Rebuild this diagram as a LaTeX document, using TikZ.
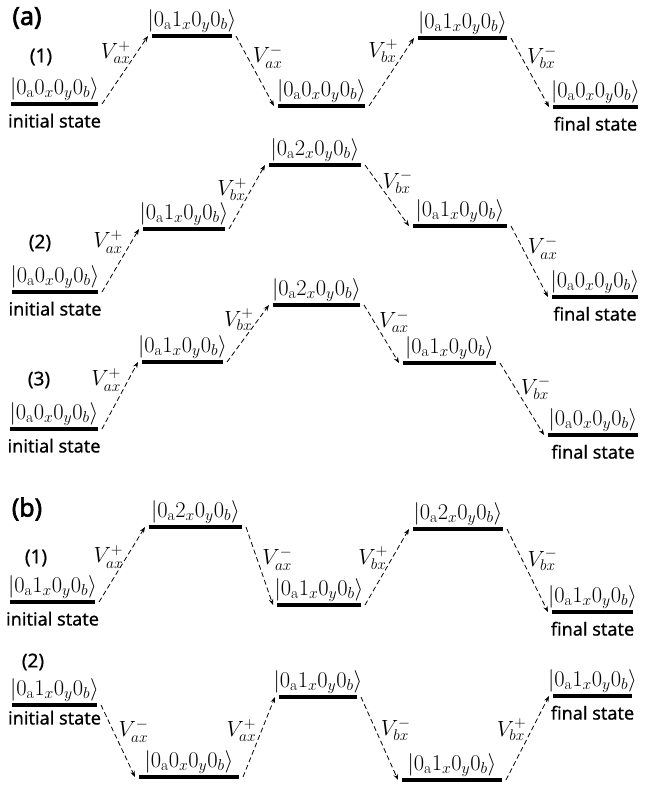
\RequirePackage{fix-cm}
\documentclass[tikz,border=0pt]{standalone}
\usepackage{fontspec}
\newfontfamily\yahei{Noto Sans}[FakeBold=0.6]
\newfontfamily\yaheibold{Noto Sans}[FakeBold=2.4]
\usetikzlibrary{arrows.meta}
\newcommand{\kx}[1]{$|0_{\mathrm{a}}#1_{x}0_{y}0_{b}\rangle$}
\newcommand{\Vp}[1]{$V_{#1x}^{+}$}
\newcommand{\Vm}[1]{$V_{#1x}^{-}$}
\begin{document}
\begin{tikzpicture}[x=1pt, y=-1pt,
	level/.style={fill=black, minimum height=4.5, inner sep=0pt, outer xsep=4pt, outer ysep=0pt},
	ket/.style={font=\fontsize{22.5}{26}\selectfont, inner sep=1pt},
	state/.style={font=\yahei\fontsize{18}{20}\selectfont, label distance=4pt},
	part/.style={font=\yaheibold\fontsize{25}{28}\selectfont},
	case/.style={font=\yahei\fontsize{19}{22}\selectfont},
	vlab/.style={font=\fontsize{22}{26}\selectfont, inner sep=1pt},
	trans/.style={draw, line width=0.8pt, dash pattern=on 5pt off 3pt, -{Stealth[length=6pt, width=4.5pt]}}]
%			\draw[help lines] (0,0) grid (648,785);
			\useasboundingbox (0,0) rectangle (648,785);
			\node[part] (tag-a) at (27,18) {(a)};
			\node[part] (tag-b) at (27,509) {(b)};
			\node[case] (case-a1) at (41,57) {(1)};
			\node[case] (case-a2) at (40,243) {(2)};
			\node[case] (case-a3) at (39,380) {(3)};
			\node[case] (case-b1) at (36,558) {(1)};
			\node[case] (case-b2) at (33,662) {(2)};
			% (a)(1)
			\node[level, minimum width=87, label={[ket]above:\kx{0}}, label={[state]below:initial state}] (a1-0) at (54.5,104) {};
			\node[level, minimum width=80, label={[ket]above:\kx{1}}] (a1-1) at (192,36) {};
			\node[level, minimum width=87, label={[ket]above:\kx{0}}] (a1-2) at (321.5,106) {};
			\node[level, minimum width=89, label={[ket]above:\kx{1}}] (a1-3) at (462.5,38) {};
			\node[level, minimum width=85, label={[ket]above:\kx{0}}, label={[state]below:final state}] (a1-4) at (595.5,107) {};
			\draw (a1-0.east) edge[trans] node[vlab, pos=0.76, left=5pt] {\Vp{a}} (a1-1.west);
			\draw (a1-1.east) edge[trans] node[vlab, pos=0.30, right=4pt] {\Vm{a}} (a1-2.west);
			\draw (a1-2.east) edge[trans] node[vlab, pos=0.81, left=6pt] {\Vp{b}} (a1-3.west);
			\draw (a1-3.east) edge[trans] node[vlab, pos=0.28, right=4pt] {\Vm{b}} (a1-4.west);
			% (a)(2)
			\node[level, minimum width=86, label={[ket]above:\kx{0}}, label={[state]below:initial state}] (a2-0) at (55,292) {};
			\node[level, minimum width=82, label={[ket]above:\kx{1}}] (a2-1) at (184,229) {};
			\node[level, minimum width=92, label={[ket]above:\kx{2}}] (a2-2) at (315,165) {};
			\node[level, minimum width=94, label={[ket]above:\kx{1}}] (a2-3) at (460,226) {};
			\node[level, minimum width=86, label={[ket]above:\kx{0}}, label={[state]below:final state}] (a2-4) at (595,297) {};
			\draw (a2-0.east) edge[trans] node[vlab, pos=0.79, left=7pt] {\Vp{a}} (a2-1.west);
			\draw (a2-1.east) edge[trans] node[vlab, pos=0.62, left=3pt] {\Vp{b}} (a2-2.west);
			\draw (a2-2.east) edge[trans] node[vlab, pos=0.28, right=4pt] {\Vm{b}} (a2-3.west);
			\draw (a2-3.east) edge[trans] node[vlab, pos=0.31, right=4pt] {\Vm{a}} (a2-4.west);
			% (a)(3)
			\node[level, minimum width=88, label={[ket]above:\kx{0}}, label={[state]below:initial state}] (a3-0) at (54,429) {};
			\node[level, minimum width=81, label={[ket]above:\kx{1}}] (a3-1) at (182.5,362) {};
			\node[level, minimum width=87, label={[ket]above:\kx{2}}] (a3-2) at (316.5,305) {};
			\node[level, minimum width=93, label={[ket]above:\kx{1}}] (a3-3) at (449.5,363) {};
			\node[level, minimum width=90, label={[ket]above:\kx{0}}, label={[state]below:final state}] (a3-4) at (593,435) {};
			\draw (a3-0.east) edge[trans] node[vlab, pos=0.73, left=6pt] {\Vp{a}} (a3-1.west);
			\draw (a3-1.east) edge[trans] node[vlab, pos=0.74, left=3pt] {\Vp{b}} (a3-2.west);
			\draw (a3-2.east) edge[trans] node[vlab, pos=0.28, right=4pt] {\Vm{a}} (a3-3.west);
			\draw (a3-3.east) edge[trans] node[vlab, pos=0.35, right=4pt] {\Vm{b}} (a3-4.west);
			% (b)(1)
			\node[level, minimum width=85, label={[ket]above:\kx{1}}, label={[state]below:initial state}] (b1-0) at (52.5,602) {};
			\node[level, minimum width=93, label={[ket]above:\kx{2}}] (b1-1) at (195.5,527) {};
			\node[level, minimum width=84, label={[ket]above:\kx{1}}] (b1-2) at (319,605) {};
			\node[level, minimum width=90, label={[ket]above:\kx{2}}] (b1-3) at (458,529) {};
			\node[level, minimum width=81, label={[ket]above:\kx{1}}, label={[state]below:final state}] (b1-4) at (592.5,612) {};
			\draw (b1-0.east) edge[trans] node[vlab, pos=0.60, left=2pt] {\Vp{a}} (b1-1.west);
			\draw (b1-1.east) edge[trans] node[vlab, pos=0.41, right=4pt] {\Vm{a}} (b1-2.west);
			\draw (b1-2.east) edge[trans] node[vlab, pos=0.62, left=3pt] {\Vp{b}} (b1-3.west);
			\draw (b1-3.east) edge[trans] node[vlab, pos=0.37, right=4pt] {\Vm{b}} (b1-4.west);
			% (b)(2)
			\node[level, minimum width=85, label={[ket]above:\kx{1}}, label={[state, label distance=0pt]below:initial state}] (b2-0) at (54.5,705) {};
			\node[level, minimum width=100, label={[ket]above:\kx{0}}] (b2-1) at (189,777) {};
			\node[level, minimum width=78, label={[ket]above:\kx{1}}] (b2-2) at (318,697) {};
			\node[level, minimum width=100, label={[ket]above:\kx{1}}] (b2-3) at (452,780) {};
			\node[level, minimum width=79, label={[ket]above:\kx{1}}, label={[state]below:final state}] (b2-4) at (592.5,696) {};
			\draw (b2-0.east) edge[trans] node[vlab, pos=0.36, right=4pt] {\Vm{a}} (b2-1.west);
			\draw (b2-1.east) edge[trans] node[vlab, pos=0.58, left=4pt] {\Vp{a}} (b2-2.west);
			\draw (b2-2.east) edge[trans] node[vlab, pos=0.39, right=4pt] {\Vm{b}} (b2-3.west);
			\draw (b2-3.east) edge[trans] node[vlab, pos=0.60, left=4pt] {\Vp{b}} (b2-4.west);
		\end{tikzpicture}
\end{document}
